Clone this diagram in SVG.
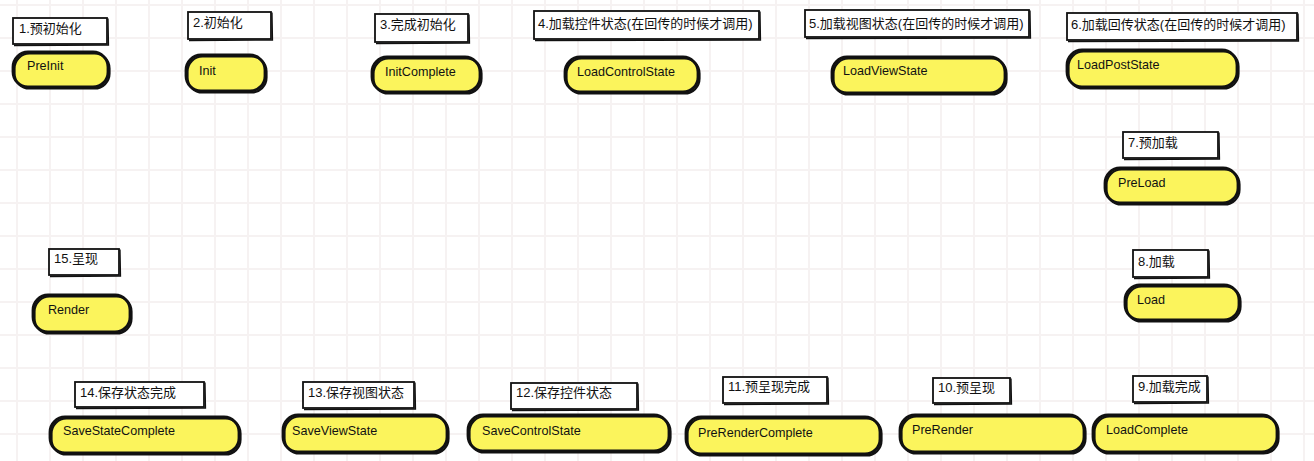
<svg xmlns="http://www.w3.org/2000/svg" width="1314" height="461" viewBox="0 0 1314 461">
<defs>
<pattern id="grid" patternUnits="userSpaceOnUse" x="16" y="4" width="33" height="33">
<rect x="0" y="0" width="2" height="33" fill="#f6f2f2"/>
<rect x="0" y="0" width="33" height="2" fill="#f6f2f2"/>
</pattern>
<style>
.lbl{fill:#fff;stroke:#111;stroke-width:1.8}
.lbl2{fill:none;stroke:#111;stroke-width:1.3}
.pill{fill:#fbf45c;stroke:#111;stroke-width:2.8}
.pill2{fill:none;stroke:#111;stroke-width:2.2}
.t{font-family:"Liberation Sans","Noto Sans CJK SC",sans-serif;font-size:13px;fill:#111}
.p{font-family:"Liberation Sans","Noto Sans CJK SC",sans-serif;font-size:12.6px;fill:#111}
</style>
</defs>
<rect x="0" y="0" width="1314" height="461" fill="#fff"/>
<rect x="0" y="0" width="1314" height="461" fill="url(#grid)"/>
<g id="connectors"></g>

<g id="n1">
<rect class="lbl" x="13" y="18" width="94" height="26"/>
<path class="lbl2" d="M108 18.5 L108.5 45 L14 45.5"/>
<text class="t" x="19" y="33">1.预初始化</text>
<rect class="pill" x="13" y="52" width="95" height="35" rx="15"/>
<rect class="pill2" x="14.5" y="53.5" width="95" height="35" rx="15"/>
<text class="p" x="27" y="70">PreInit</text>
</g>

<g id="n2">
<rect class="lbl" x="188" y="12" width="83" height="27"/>
<path class="lbl2" d="M272 12.5 L272.5 40 L189 40.5"/>
<text class="t" x="193" y="27">2.初始化</text>
<rect class="pill" x="186" y="55" width="79" height="36" rx="15"/>
<rect class="pill2" x="187.5" y="56.5" width="79" height="36" rx="15"/>
<text class="p" x="199" y="75">Init</text>
</g>

<g id="n3">
<rect class="lbl" x="375" y="14" width="93" height="28"/>
<path class="lbl2" d="M469 14.5 L469.5 43 L376 43.5"/>
<text class="t" x="380" y="29">3.完成初始化</text>
<rect class="pill" x="372" y="57" width="108" height="35" rx="15"/>
<rect class="pill2" x="373.5" y="58.5" width="108" height="35" rx="15"/>
<text class="p" x="385" y="76">InitComplete</text>
</g>

<g id="n4">
<rect class="lbl" x="534" y="11" width="225" height="28"/>
<path class="lbl2" d="M760 11.5 L760.5 40 L535 40.5"/>
<text class="t" x="538" y="28">4.加载控件状态(在回传的时候才调用)</text>
<rect class="pill" x="565" y="57" width="133" height="35" rx="15"/>
<rect class="pill2" x="566.5" y="58.5" width="133" height="35" rx="15"/>
<text class="p" x="577" y="76">LoadControlState</text>
</g>

<g id="n5">
<rect class="lbl" x="805" y="10" width="224" height="27"/>
<path class="lbl2" d="M1030 10.5 L1030.5 38 L806 38.5"/>
<text class="t" x="809" y="28">5.加载视图状态(在回传的时候才调用)</text>
<rect class="pill" x="832" y="57" width="173" height="36" rx="15"/>
<rect class="pill2" x="833.5" y="58.5" width="173" height="36" rx="15"/>
<text class="p" x="843" y="75">LoadViewState</text>
</g>

<g id="n6">
<rect class="lbl" x="1067" y="13" width="230" height="27"/>
<path class="lbl2" d="M1298 13.5 L1298.5 41 L1068 41.5"/>
<text class="t" x="1071" y="29">6.加载回传状态(在回传的时候才调用)</text>
<rect class="pill" x="1067" y="50" width="170" height="37" rx="15"/>
<rect class="pill2" x="1068.5" y="51.5" width="170" height="37" rx="15"/>
<text class="p" x="1077" y="69">LoadPostState</text>
</g>

<g id="n7">
<rect class="lbl" x="1123" y="132" width="95" height="26"/>
<path class="lbl2" d="M1219 132.5 L1219.5 159 L1124 159.5"/>
<text class="t" x="1128" y="147">7.预加载</text>
<rect class="pill" x="1105" y="168" width="133" height="35" rx="15"/>
<rect class="pill2" x="1106.5" y="169.5" width="133" height="35" rx="15"/>
<text class="p" x="1118" y="187">PreLoad</text>
</g>

<g id="n8">
<rect class="lbl" x="1133" y="250" width="75" height="27"/>
<path class="lbl2" d="M1209 250.5 L1209.5 278 L1134 278.5"/>
<text class="t" x="1138" y="266">8.加载</text>
<rect class="pill" x="1125" y="285" width="114" height="35" rx="15"/>
<rect class="pill2" x="1126.5" y="286.5" width="114" height="35" rx="15"/>
<text class="p" x="1137" y="304">Load</text>
</g>

<g id="n9">
<rect class="lbl" x="1133" y="376" width="74" height="26"/>
<path class="lbl2" d="M1208 376.5 L1208.5 403 L1134 403.5"/>
<text class="t" x="1138" y="391">9.加载完成</text>
<rect class="pill" x="1093" y="415" width="184" height="37" rx="15"/>
<rect class="pill2" x="1094.5" y="416.5" width="184" height="37" rx="15"/>
<text class="p" x="1106" y="434">LoadComplete</text>
</g>

<g id="n10">
<rect class="lbl" x="933" y="378" width="77" height="25"/>
<path class="lbl2" d="M1011 378.5 L1011.5 404 L934 404.5"/>
<text class="t" x="938" y="392">10.预呈现</text>
<rect class="pill" x="900" y="415" width="184" height="37" rx="15"/>
<rect class="pill2" x="901.5" y="416.5" width="184" height="37" rx="15"/>
<text class="p" x="912" y="434">PreRender</text>
</g>

<g id="n11">
<rect class="lbl" x="723" y="377" width="104" height="26"/>
<path class="lbl2" d="M828 377.5 L828.5 404 L724 404.5"/>
<text class="t" x="728" y="391">11.预呈现完成</text>
<rect class="pill" x="686" y="417" width="194" height="37" rx="15"/>
<rect class="pill2" x="687.5" y="418.5" width="194" height="37" rx="15"/>
<text class="p" x="698" y="437">PreRenderComplete</text>
</g>

<g id="n12">
<rect class="lbl" x="511" y="383" width="126" height="26"/>
<path class="lbl2" d="M638 383.5 L638.5 410 L512 410.5"/>
<text class="t" x="516" y="397">12.保存控件状态</text>
<rect class="pill" x="468" y="415" width="201" height="36" rx="15"/>
<rect class="pill2" x="469.5" y="416.5" width="201" height="36" rx="15"/>
<text class="p" x="482" y="435">SaveControlState</text>
</g>

<g id="n13">
<rect class="lbl" x="303" y="382" width="111" height="26"/>
<path class="lbl2" d="M415 382.5 L415.5 409 L304 409.5"/>
<text class="t" x="308" y="397">13.保存视图状态</text>
<rect class="pill" x="283" y="415" width="164" height="37" rx="15"/>
<rect class="pill2" x="284.5" y="416.5" width="164" height="37" rx="15"/>
<text class="p" x="292" y="435">SaveViewState</text>
</g>

<g id="n14">
<rect class="lbl" x="75" y="382" width="129" height="25"/>
<path class="lbl2" d="M205 382.5 L205.5 408 L76 408.5"/>
<text class="t" x="80" y="397">14.保存状态完成</text>
<rect class="pill" x="50" y="417" width="189" height="36" rx="15"/>
<rect class="pill2" x="51.5" y="418.5" width="189" height="36" rx="15"/>
<text class="p" x="63" y="435">SaveStateComplete</text>
</g>

<g id="n15">
<rect class="lbl" x="49" y="249" width="70" height="26"/>
<path class="lbl2" d="M120 249.5 L120.5 276 L50 276.5"/>
<text class="t" x="54" y="263">15.呈现</text>
<rect class="pill" x="33" y="295" width="97" height="37" rx="15"/>
<rect class="pill2" x="34.5" y="296.5" width="97" height="37" rx="15"/>
<text class="p" x="48" y="314">Render</text>
</g>
</svg>
